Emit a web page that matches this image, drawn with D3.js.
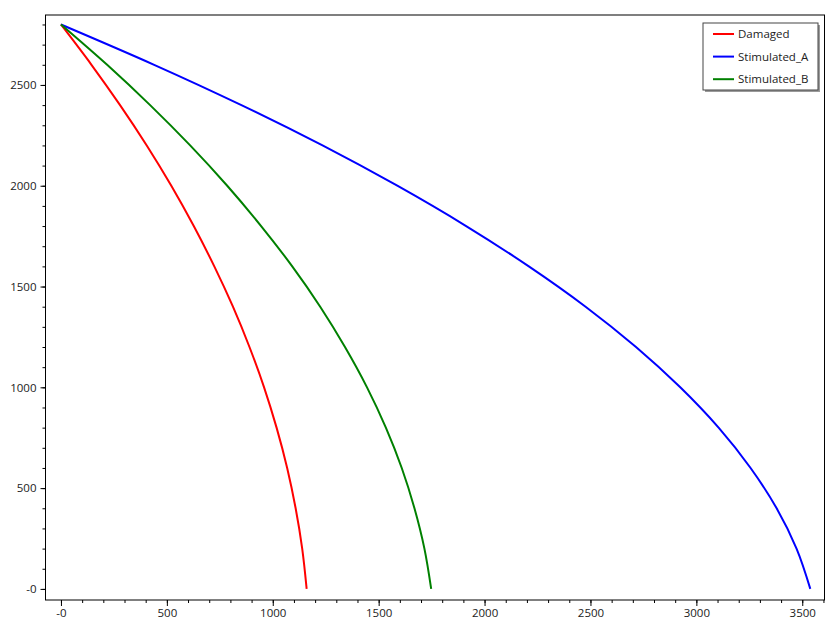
<!DOCTYPE html>
<html>
<head>
<meta charset="utf-8">
<script src="https://cdn.jsdelivr.net/npm/d3@7"></script>
<style>
  body { margin: 0; background: #fff; }
  text { font-family: "Open Sans", "Noto Sans", sans-serif; font-size: 11.5px; fill: #222; }
</style>
</head>
<body>
<div id="chart"></div>
<script>
// pressure levels (y) shared by all curves
const pressure = [2800, 2600, 2400, 2200, 2000, 1800, 1600, 1400, 1200, 1000, 800, 600, 400, 200, 0];
// rates
const damaged     = [0, 144, 279, 405, 521, 627, 724, 812, 890, 959, 1018, 1068, 1108, 1139, 1160];
const stimulatedA = [0, 440, 852, 1235, 1588, 1913, 2209, 2477, 2715, 2924, 3105, 3256, 3379, 3473, 3538];
const stimulatedB = [0, 218, 421, 610, 785, 945, 1092, 1224, 1341, 1445, 1534, 1609, 1669, 1716, 1748];
const seriesNames = ["Damaged", "Stimulated_A", "Stimulated_B"];
const seriesColors = ["#ff0000", "#0000ff", "#008000"];
const xTicks = [0, 500, 1000, 1500, 2000, 2500, 3000, 3500];
const yTicks = [0, 500, 1000, 1500, 2000, 2500];

const width = 840, height = 630,
  margin = {top: 15, right: 15.5, bottom: 30, left: 45.5};

const svg = d3.select("#chart").append("svg")
  .attr("width", width)
  .attr("height", height);

const x = d3.scaleLinear()
  .domain([-73, 3605])
  .range([margin.left, width - margin.right]);

const y = d3.scaleLinear()
  .domain([-55, 2847])
  .range([height - margin.bottom, margin.top]);

const fmt = d => d === 0 ? "-0" : String(d);

// minor ticks
svg.append("g")
  .attr("transform", "translate(0," + (height - margin.bottom) + ")")
  .call(d3.axisBottom(x).tickValues(d3.range(-0, 3601, 100)).tickSize(3).tickFormat(""))
  .call(g => g.select(".domain").remove());
svg.append("g")
  .attr("transform", "translate(" + margin.left + ",0)")
  .call(d3.axisLeft(y).tickValues(d3.range(0, 2801, 100)).tickSize(3).tickFormat(""))
  .call(g => g.select(".domain").remove());

// major ticks
const xAxis = svg.append("g")
  .attr("transform", "translate(0," + (height - margin.bottom) + ")")
  .call(d3.axisBottom(x).tickValues(xTicks).tickSize(6).tickPadding(3).tickFormat(fmt));
xAxis.select(".domain").remove();
xAxis.selectAll("text").style("font-size", "11.5px").style("fill", "#222");

const yAxis = svg.append("g")
  .attr("transform", "translate(" + margin.left + ",0)")
  .call(d3.axisLeft(y).tickValues(yTicks).tickSize(5).tickPadding(4).tickFormat(fmt));
yAxis.select(".domain").remove();
yAxis.selectAll("text").style("font-size", "11.5px").style("fill", "#222");

// plot frame
svg.append("rect")
  .attr("x", margin.left)
  .attr("y", margin.top)
  .attr("width", width - margin.left - margin.right)
  .attr("height", height - margin.top - margin.bottom)
  .attr("fill", "none")
  .attr("stroke", "#000")
  .attr("stroke-width", 1);

const line = d3.line()
  .x(d => x(d[0]))
  .y(d => y(d[1]))
  .curve(d3.curveMonotoneY);

[damaged, stimulatedA, stimulatedB].forEach((rates, i) => {
  svg.append("path")
    .datum(rates.map((q, j) => [q, pressure[j]]))
    .attr("fill", "none")
    .attr("stroke", seriesColors[i])
    .attr("stroke-width", 2)
    .attr("d", line);
});

// legend
const legend = svg.append("g").attr("transform", "translate(703,23)");
legend.append("rect")
  .attr("x", 2).attr("y", 2)
  .attr("width", 115).attr("height", 67)
  .attr("fill", "#9a9a9a");
legend.append("rect")
  .attr("width", 115).attr("height", 67)
  .attr("fill", "#fff")
  .attr("stroke", "#444")
  .attr("stroke-width", 1);

seriesNames.forEach((name, i) => {
  const row = legend.append("g").attr("transform", "translate(0," + (11 + i * 22.6) + ")");
  row.append("line")
    .attr("x1", 10).attr("x2", 31)
    .attr("stroke", seriesColors[i])
    .attr("stroke-width", 2);
  row.append("text")
    .attr("x", 35)
    .attr("dy", "0.35em")
    .text(name);
});
</script>
</body>
</html>
